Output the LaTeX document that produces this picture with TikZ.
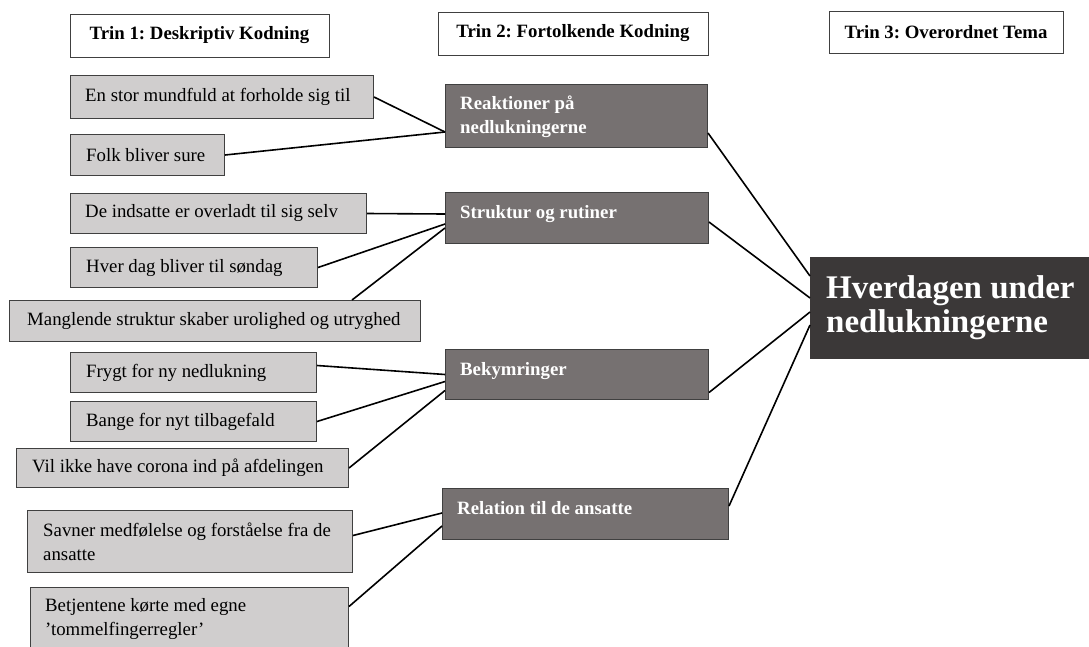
\documentclass[tikz,border=0pt]{standalone}
\usepackage{fontspec}
\setmainfont{Liberation Serif}
\frenchspacing
\definecolor{lightgrey}{HTML}{D0CECE}
\definecolor{midgrey}{HTML}{767171}
\definecolor{darkgrey}{HTML}{3B3838}
\definecolor{boxline}{HTML}{404040}
\tikzset{
  header/.style={draw=boxline, line width=1pt, fill=white, inner sep=0, font=\bfseries\fontsize{18.8}{24}\selectfont},
  codebox/.style={draw=boxline, line width=1pt, fill=lightgrey, anchor=north west, inner sep=0},
  codetext/.style={anchor=west, inner sep=0, align=left, font=\fontsize{18.8}{24}\selectfont},
  themebox/.style={draw=boxline, line width=1pt, fill=midgrey, anchor=north west, inner sep=0},
  themetext/.style={anchor=north west, inner sep=0, align=left, text=white, font=\bfseries\fontsize{18.8}{24}\selectfont},
  link/.style={line width=1.6pt},
}
\begin{document}
\begin{tikzpicture}[x=1pt,y=-1pt]
\useasboundingbox (0,0) rectangle (1089,646);
\clip (0,0) rectangle (1089,646);

% headers
\node[header, minimum width=259, minimum height=43] (trinA) at (199.5,35.5) {Trin 1: Deskriptiv Kodning};
\node[header, minimum width=270, minimum height=43] (trinB) at (573,33.5) {Trin 2: Fortolkende Kodning};
\node[header, minimum width=234, minimum height=42] (trinC) at (946,32) {Trin 3: Overordnet Tema};

% trin 1
\node[codebox, minimum width=303, minimum height=43] (mundfuld) at (70,75) {};
\node[codetext] (mundfuldT) at ([xshift=15]mundfuld.west) {En stor mundfuld at forholde sig til};
\node[codebox, minimum width=154, minimum height=41] (sure) at (70,134) {};
\node[codetext] (sureT) at ([xshift=16]sure.west) {Folk bliver sure};
\node[codebox, minimum width=296, minimum height=40] (overladt) at (70,193) {};
\node[codetext] (overladtT) at ([xshift=15]overladt.west) {De indsatte er overladt til sig selv};
\node[codebox, minimum width=247, minimum height=40] (soendag) at (70,247) {};
\node[codetext] (soendagT) at ([xshift=16]soendag.west) {Hver dag bliver til søndag};
\node[codebox, minimum width=411, minimum height=41] (uro) at (9,300) {};
\node[codetext] (uroT) at ([xshift=18]uro.west) {Manglende struktur skaber urolighed og utryghed};
\node[codebox, minimum width=246, minimum height=40] (frygt) at (70,352) {};
\node[codetext] (frygtT) at ([xshift=16]frygt.west) {Frygt for ny nedlukning};
\node[codebox, minimum width=246, minimum height=40] (tilbagefald) at (70,401) {};
\node[codetext] (tilbagefaldT) at ([xshift=16]tilbagefald.west) {Bange for nyt tilbagefald};
\node[codebox, minimum width=332, minimum height=39] (corona) at (16,448) {};
\node[codetext] (coronaT) at ([xshift=16]corona.west) {Vil ikke have corona ind på afdelingen};
\node[codebox, minimum width=325, minimum height=62] (medfoelelse) at (27,510) {};
\node[codetext] (medfoelelseT) at ([xshift=16]medfoelelse.west) {Savner medfølelse og forståelse fra de\\ansatte};
\node[codebox, minimum width=318, minimum height=62] (regler) at (30,587) {};
\node[codetext] (reglerT) at ([xshift=15]regler.west) {Betjentene kørte med egne\\’tommelfingerregler’};

% trin 2
\node[themebox, minimum width=262, minimum height=63] (reaktion) at (445,84) {};
\node[themetext] (reaktionT) at ([xshift=15,yshift=-12]reaktion.north west) {Reaktioner på\\nedlukningerne};
\node[themebox, minimum width=263, minimum height=51] (struktur) at (445,192) {};
\node[themetext] (strukturT) at ([xshift=15,yshift=-13]struktur.north west) {Struktur og rutiner};
\node[themebox, minimum width=263, minimum height=50] (bekymring) at (445,349) {};
\node[themetext] (bekymringT) at ([xshift=15,yshift=-13]bekymring.north west) {Bekymringer};
\node[themebox, minimum width=286, minimum height=51] (relation) at (442,488) {};
\node[themetext] (relationT) at ([xshift=15,yshift=-13]relation.north west) {Relation til de ansatte};

% trin 3
\node[draw=darkgrey, line width=1pt, fill=darkgrey, anchor=north west, inner sep=0, minimum width=285, minimum height=101] (hverdag) at (810,257) {};
\node[anchor=west, inner sep=0, align=left, text=white, font=\bfseries\fontsize{33}{34}\selectfont] (hverdagT) at ([xshift=16]hverdag.west) {Hverdagen under\\nedlukningerne};

% connectors
\draw[link] (mundfuld.east) -- ([yshift=-16]reaktion.west);
\draw[link] (sure.east) -- ([yshift=-16]reaktion.west);
\draw[link] (overladt.east) -- ([yshift=4]struktur.west);
\draw[link] (soendag.east) -- ([yshift=-6]struktur.west);
\draw[link] ([xshift=-69]uro.north east) -- ([yshift=-10]struktur.west);
\draw[link] ([yshift=7]frygt.east) -- (bekymring.west);
\draw[link] (tilbagefald.east) -- ([yshift=-7]bekymring.west);
\draw[link] (corona.east) -- ([yshift=-16]bekymring.west);
\draw[link] ([yshift=6]medfoelelse.east) -- ([yshift=1]relation.west);
\draw[link] ([yshift=12]regler.east) -- ([yshift=-12]relation.west);
\draw[link] ([yshift=-17]reaktion.east) -- ([yshift=32]hverdag.west);
\draw[link] ([yshift=-4]struktur.east) -- ([yshift=10]hverdag.west);
\draw[link] ([yshift=-18]bekymring.east) -- ([yshift=-4]hverdag.west);
\draw[link] ([yshift=8]relation.east) -- ([yshift=-17]hverdag.west);
\end{tikzpicture}
\end{document}
